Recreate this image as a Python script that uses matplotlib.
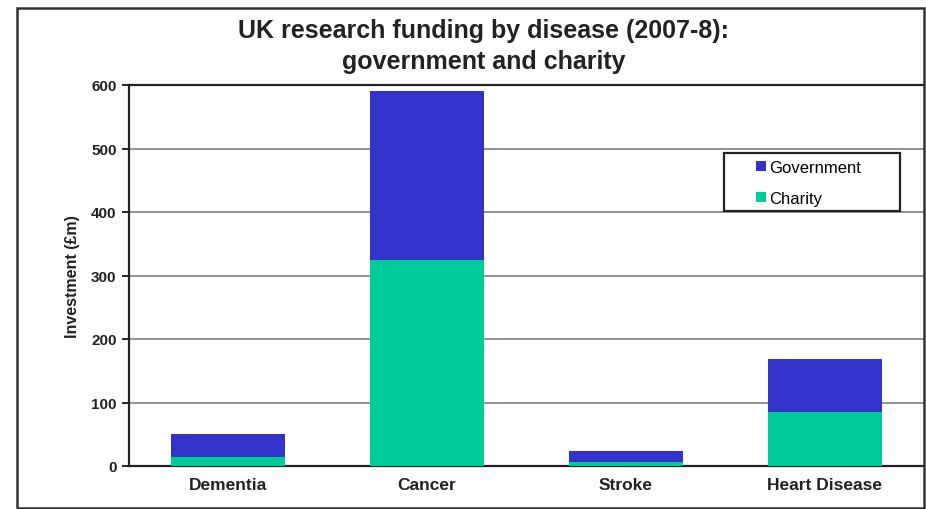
import matplotlib
matplotlib.use("Agg")
import matplotlib.pyplot as plt
from matplotlib.patches import Rectangle

categories = ["Dementia", "Cancer", "Stroke", "Heart Disease"]
charity = [14, 324, 6, 85]
government = [37, 267, 18, 84]
yticks = [0, 100, 200, 300, 400, 500, 600]

plt.rcParams['font.family'] = ['Liberation Sans', 'DejaVu Sans']

fig = plt.figure(figsize=(9.26, 5.10), dpi=100)
ax = fig.add_axes([129/926, 43/510, 795/926, 381/510])

x = range(len(categories))
w = 0.573
ax.bar(x, charity, width=w, color="#00CC99", label="Charity", zorder=3)
ax.bar(x, government, width=w, bottom=charity, color="#3333CC", label="Government", zorder=3)

ax.set_xlim(-0.5, 3.5)
ax.set_ylim(0, 600)
ax.set_yticks(yticks)
ax.set_yticklabels([str(v) for v in yticks], fontsize=11, fontweight="bold", color="#222222")
ax.set_xticks(list(x))
ax.set_xticklabels(categories, fontsize=12.5, fontweight="bold", color="#222222")
ax.tick_params(axis="x", length=0, pad=8)
ax.tick_params(axis="y", length=5, width=1.2, direction="out", pad=4)
for v in yticks[1:-1]:
    ax.axhline(v, color="#888888", lw=1.3, zorder=1)
for s in ["left", "bottom", "top"]:
    ax.spines[s].set_linewidth(1.6)
    ax.spines[s].set_color("#222222")
ax.spines["right"].set_visible(False)
ax.set_ylabel("Investment (£m)", fontsize=11.5, fontweight="bold", labelpad=8, color="#222222")

# legend box drawn in pixel-matched axes coords
def ax_xy(px, py):
    return ((px - 129) / 795, (467 - py) / 381)

bx0, by0 = ax_xy(724, 212)
bx1, by1 = ax_xy(900, 154)
ax.add_patch(Rectangle((bx0, by0), bx1 - bx0, by1 - by0, transform=ax.transAxes,
                       facecolor="white", edgecolor="#222222", lw=1.6, zorder=5))
h, l = ax.get_legend_handles_labels()
leg = ax.legend(h[::-1], l[::-1], loc="upper left", bbox_to_anchor=ax_xy(751, 156),
                frameon=False, fontsize=12, handlelength=0.6, handleheight=0.6,
                handletextpad=0.2, borderpad=0.3, labelspacing=0.95, borderaxespad=0)
leg.set_zorder(6)

fig.text(484/926, 1 - 31/510, "UK research funding by disease (2007-8):", ha="center", va="center",
         fontsize=18, fontweight="bold", color="#222222")
fig.text(484/926, 1 - 62/510, "government and charity", ha="center", va="center",
         fontsize=18, fontweight="bold", color="#222222")

fig.patches.append(Rectangle((17/926, 1/510), (924-17)/926, (509-9)/510, transform=fig.transFigure,
                             fill=False, edgecolor="#333333", lw=1.8))

fig.savefig("out.png", dpi=100)
